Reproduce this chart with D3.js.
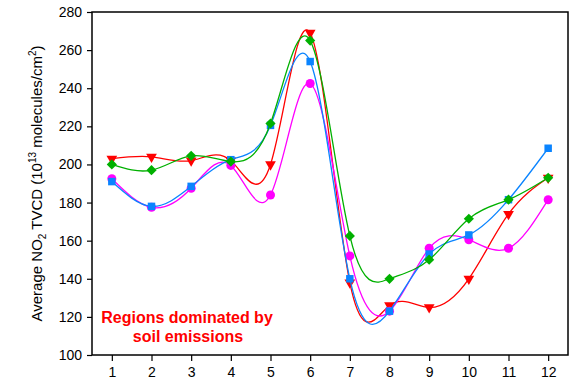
<!DOCTYPE html>
<html>
<head>
<meta charset="utf-8">
<script src="https://cdn.jsdelivr.net/npm/d3@7"></script>
<style>
  body { margin: 0; background: #fff; }
  text { font-family: "Liberation Sans", Arial, sans-serif; }
</style>
</head>
<body>
<div id="chart"></div>
<script>
const months = [1, 2, 3, 4, 5, 6, 7, 8, 9, 10, 11, 12];
const redValues = [203, 204, 202, 202, 200, 269, 138, 126, 125, 140, 174, 193];
const magentaValues = [192.5, 177.5, 187.5, 199.5, 184, 242.5, 152, 123, 156, 160.5, 156, 181.5];
const blueValues = [191, 178, 188.5, 202.5, 220.5, 254, 140, 123, 153, 163, 181.5, 208.5];
const greenValues = [200, 197, 204.5, 201.5, 221.5, 265, 162.5, 140, 150, 171.5, 181.5, 193];
const yTicks = [100, 120, 140, 160, 180, 200, 220, 240, 260, 280];

const width = 576, height = 382;
const margin = { top: 12, right: 8, bottom: 27, left: 92 };

const svg = d3.select("#chart")
    .append("svg")
    .attr("width", width)
    .attr("height", height);

const x = d3.scaleLinear().domain([0.5, 12.5]).range([margin.left, width - margin.right]);
const y = d3.scaleLinear().domain([100, 280]).range([height - margin.bottom, margin.top]);

// frame
svg.append("rect")
    .attr("x", margin.left)
    .attr("y", margin.top)
    .attr("width", width - margin.left - margin.right)
    .attr("height", height - margin.top - margin.bottom)
    .attr("fill", "none")
    .attr("stroke", "#000")
    .attr("stroke-width", 1.5);

const xAxis = svg.append("g")
    .attr("transform", `translate(0, ${height - margin.bottom})`)
    .call(d3.axisBottom(x).tickValues(months).tickSize(6).tickPadding(6).tickSizeOuter(0));
xAxis.select(".domain").remove();
xAxis.selectAll("text").attr("font-size", 14).attr("fill", "#000");

const yAxis = svg.append("g")
    .attr("transform", `translate(${margin.left}, 0)`)
    .call(d3.axisLeft(y).tickValues(yTicks).tickSize(5).tickPadding(5).tickSizeOuter(0));
yAxis.select(".domain").remove();
yAxis.selectAll("text").attr("font-size", 14).attr("fill", "#000");
svg.selectAll(".tick line").attr("stroke-width", 1.2);

// y label
const yLabel = svg.append("text")
    .attr("transform", `translate(42, ${(margin.top + height - margin.bottom) / 2}) rotate(-90)`)
    .attr("text-anchor", "middle")
    .attr("font-size", 15);
yLabel.append("tspan").text("Average NO");
yLabel.append("tspan").attr("font-size", 10).attr("dy", 4).text("2");
yLabel.append("tspan").attr("dy", -4).text(" TVCD (10");
yLabel.append("tspan").attr("font-size", 10).attr("dy", -6).text("13");
yLabel.append("tspan").attr("dy", 6).text(" molecules/cm");
yLabel.append("tspan").attr("font-size", 10).attr("dy", -6).text("2");
yLabel.append("tspan").attr("dy", 6).text(")");

const series = [
    { values: redValues, color: "#ff0000", symbol: "triangle" },
    { values: magentaValues, color: "#ff00ff", symbol: "circle" },
    { values: blueValues, color: "#0a84ff", symbol: "square" },
    { values: greenValues, color: "#00b000", symbol: "diamond" }
];

const line = d3.line()
    .x((d, i) => x(months[i]))
    .y(d => y(d))
    .curve(d3.curveNatural);

const symbols = {
    circle: d3.symbol().type(d3.symbolCircle).size(64),
    square: d3.symbol().type(d3.symbolSquare).size(56),
    diamond: d3.symbol().type(d3.symbolSquare).size(52),
    triangle: d3.symbol().type(d3.symbolTriangle).size(50)
};
const rotation = { triangle: " rotate(180)", diamond: " rotate(45)", circle: "", square: "" };

series.forEach(s => {
    const g = svg.append("g");
    g.append("path")
        .datum(s.values)
        .attr("fill", "none")
        .attr("stroke", s.color)
        .attr("stroke-width", 1.3)
        .attr("d", line);
    g.selectAll("path.pt")
        .data(s.values)
        .join("path")
        .attr("class", "pt")
        .attr("d", symbols[s.symbol])
        .attr("fill", s.color)
        .attr("transform", (d, i) => `translate(${x(months[i])}, ${y(d)})` + rotation[s.symbol]);
});

// annotation
const note = svg.append("text")
    .attr("text-anchor", "middle")
    .attr("font-size", 16)
    .attr("font-weight", "bold")
    .attr("fill", "#ff0000");
note.append("tspan").attr("x", 187).attr("y", 323).text("Regions dominated by");
note.append("tspan").attr("x", 188).attr("y", 342).text("soil emissions");
</script>
</body>
</html>
